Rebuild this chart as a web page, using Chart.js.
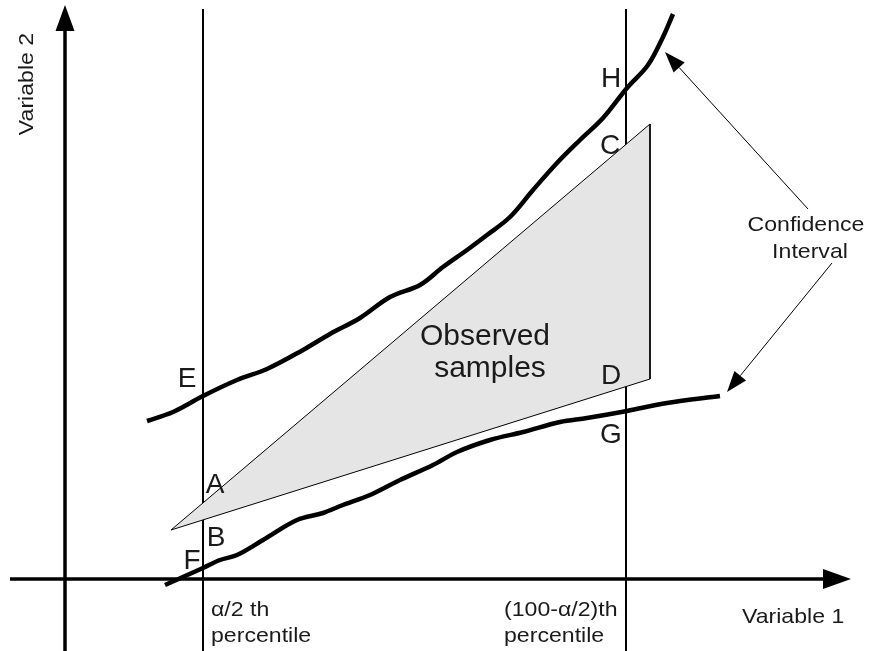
<!DOCTYPE html>
<html>
<head>
<meta charset="utf-8">
<title>Confidence interval</title>
<script src="https://cdn.jsdelivr.net/npm/chart.js@4.4.1/dist/chart.umd.min.js"></script>
<style>
  html, body { margin: 0; padding: 0; background: #fff; }
  #wrap { position: relative; width: 870px; height: 651px; }
</style>
</head>
<body>
<div id="wrap"><canvas id="ci-chart"></canvas></div>
<script>
// upper bound of the confidence band
const upperX = [8.2, 10.8, 13.8, 17.2, 20.2, 23.8, 26.5, 29.5, 32.5, 35.5, 37.8, 40.2, 42.2, 44.5, 46.8, 49.2, 51.5, 53.8, 56.2, 58.3, 59.8, 60.8];
const upperY = [15.8, 16.7, 18.3, 19.9, 21.0, 22.9, 24.5, 26.1, 28.2, 29.4, 31.2, 32.9, 34.4, 36.2, 38.9, 41.6, 43.9, 46.1, 49.1, 51.4, 54.2, 56.5];

// lower bound of the confidence band
const lowerX = [10.0, 13.8, 15.5, 17.2, 19.8, 23.2, 25.8, 27.8, 30.5, 33.5, 36.8, 39.2, 42.5, 45.8, 49.5, 52.2, 56.2, 60.2, 65.5];
const lowerY = [-0.6, 1.1, 1.9, 2.4, 3.9, 5.9, 6.6, 7.4, 8.4, 9.9, 11.4, 12.7, 13.9, 14.7, 15.7, 16.1, 16.8, 17.6, 18.3];

// corners of the observed samples region
const sampleX = [10.6, 58.5, 58.5];
const sampleY = [4.9, 45.5, 20.0];

// percentile cut-offs on variable 1
const percentileX = [13.8, 56.1];
const percentileText = [['α/2 th', 'percentile'], ['(100-α/2)th', 'percentile']];

const axisTitles = ['Variable 1', 'Variable 2'];
const bandTitle = ['Confidence', 'Interval'];
const sampleTitle = ['Observed', 'samples'];

const X_MIN = -6.5, X_MAX = 80.5, Y_MIN = -7.2, Y_MAX = 57.9;

function zip(xs, ys) {
    return xs.map((x, i) => ({ x: x, y: ys[i] }));
}

const trianglePts = zip(sampleX, sampleY);
trianglePts.push(trianglePts[0]);

function vline(x) {
    return [{ x: x, y: Y_MIN }, { x: x, y: 57.0 }];
}

function arrow(ctx, x1, y1, x2, y2, lw, len, half) {
    const a = Math.atan2(y2 - y1, x2 - x1);
    const bx = x2 - len * Math.cos(a), by = y2 - len * Math.sin(a);
    ctx.lineWidth = lw;
    ctx.beginPath();
    ctx.moveTo(x1, y1);
    ctx.lineTo(bx, by);
    ctx.stroke();
    ctx.beginPath();
    ctx.moveTo(x2, y2);
    ctx.lineTo(bx + half * Math.sin(a), by - half * Math.cos(a));
    ctx.lineTo(bx - half * Math.sin(a), by + half * Math.cos(a));
    ctx.closePath();
    ctx.fill();
}

// small captions are set a bit wide
function wideText(ctx, text, x, y, rot) {
    ctx.save();
    ctx.translate(x, y);
    if (rot) ctx.rotate(rot);
    ctx.scale(1.1, 1);
    ctx.fillText(text, 0, 0);
    ctx.restore();
}

// letters marking where the bounds and the sample region meet the percentile lines
const markLetters = [
    ['A', 15.0, 8.6], ['B', 15.1, 3.3], ['F', 12.7, 1.0], ['E', 12.2, 19.2],
    ['H', 54.6, 49.2], ['C', 54.5, 42.5], ['D', 54.6, 19.5], ['G', 54.6, 13.6]
];

const diagramPlugin = {
    id: 'diagram',
    beforeDatasetsDraw(chart) {
        const ctx = chart.ctx;
        const sx = chart.scales.x, sy = chart.scales.y;
        ctx.save();
        ctx.strokeStyle = '#000';
        ctx.fillStyle = '#000';
        // axes with arrow heads
        arrow(ctx, sx.getPixelForValue(0), sy.getPixelForValue(Y_MIN), sx.getPixelForValue(0), sy.getPixelForValue(57.4), 3.5, 26, 9.5);
        arrow(ctx, sx.getPixelForValue(-5.5), sy.getPixelForValue(0), sx.getPixelForValue(78.6), sy.getPixelForValue(0), 3.5, 28, 10);
        ctx.restore();
    },
    afterDatasetsDraw(chart) {
        const ctx = chart.ctx;
        const sx = chart.scales.x, sy = chart.scales.y;
        const px = v => sx.getPixelForValue(v);
        const py = v => sy.getPixelForValue(v);
        ctx.save();
        ctx.fillStyle = '#1a1a1a';
        ctx.strokeStyle = '#000';

        ctx.font = '28px "Liberation Sans", Arial, sans-serif';
        ctx.textAlign = 'center';
        ctx.textBaseline = 'alphabetic';
        markLetters.forEach(m => ctx.fillText(m[0], px(m[1]), py(m[2])));

        ctx.font = '30px "Liberation Sans", Arial, sans-serif';
        ctx.fillText(sampleTitle[0], px(42.0), py(23.4));
        ctx.fillText(sampleTitle[1], px(42.5), py(20.2));

        ctx.font = '21px "Liberation Sans", Arial, sans-serif';
        wideText(ctx, bandTitle[0], px(74.1), py(34.8));
        wideText(ctx, bandTitle[1], px(74.5), py(32.1));
        wideText(ctx, axisTitles[1], px(-3.2), py(49.5), -Math.PI / 2);

        ctx.textAlign = 'left';
        const captionX = [percentileX[0] + 0.8, 43.9];
        percentileText.forEach((t, i) => {
            wideText(ctx, t[0], px(captionX[i]), py(-3.7));
            wideText(ctx, t[1], px(captionX[i]), py(-6.3));
        });
        wideText(ctx, axisTitles[0], px(67.7), py(-4.4));

        // pointers from the caption to both bounds
        ctx.fillStyle = '#000';
        arrow(ctx, px(74.3), py(37.0), px(60.0), py(52.7), 1, 21, 7.5);
        arrow(ctx, px(76.7), py(31.6), px(66.2), py(18.7), 1, 21, 7.5);
        ctx.restore();
    }
};

const lineStyle = { showLine: true, pointRadius: 0, fill: false, borderColor: '#000' };

new Chart(document.getElementById('ci-chart'), {
    type: 'scatter',
    data: {
        datasets: [
            Object.assign({}, lineStyle, { data: trianglePts, borderWidth: 1, fill: 'shape', backgroundColor: '#e5e5e5', tension: 0 }),
            Object.assign({}, lineStyle, { data: vline(percentileX[0]), borderWidth: 2 }),
            Object.assign({}, lineStyle, { data: vline(percentileX[1]), borderWidth: 2 }),
            Object.assign({}, lineStyle, { data: zip(upperX, upperY), borderWidth: 4.5, tension: 0.35 }),
            Object.assign({}, lineStyle, { data: zip(lowerX, lowerY), borderWidth: 4.5, tension: 0.35 })
        ]
    },
    options: {
        responsive: true,
        maintainAspectRatio: false,
        animation: false,
        layout: { padding: 0 },
        plugins: { legend: { display: false }, tooltip: { enabled: false } },
        scales: {
            x: { type: 'linear', min: X_MIN, max: X_MAX, display: false },
            y: { type: 'linear', min: Y_MIN, max: Y_MAX, display: false }
        }
    },
    plugins: [diagramPlugin]
});
</script>
</body>
</html>
